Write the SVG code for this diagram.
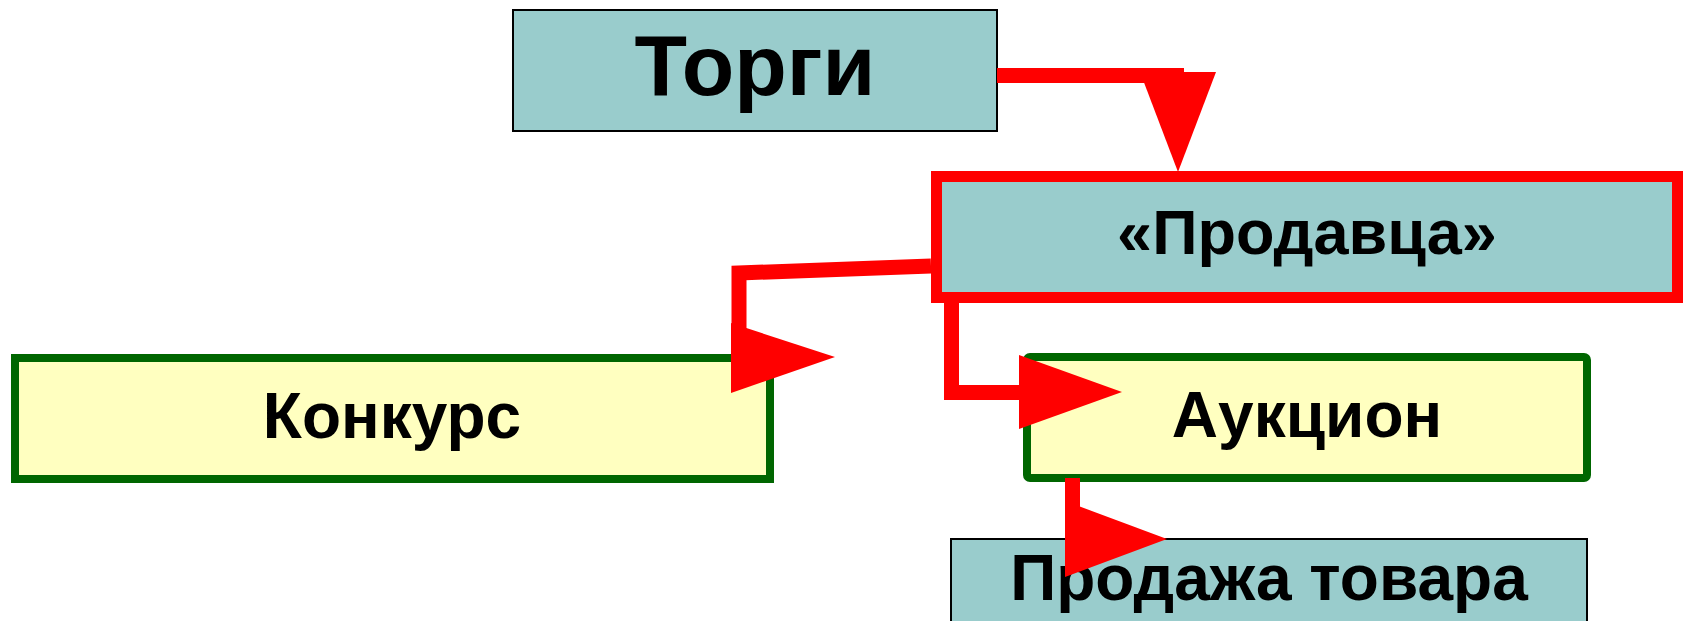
<svg xmlns="http://www.w3.org/2000/svg" width="1685" height="621" viewBox="0 0 1685 621">
<style>
.teal{fill:#99CCCC;stroke:#000;stroke-width:2}
.yel{fill:#FFFFC0;stroke:#006600;stroke-width:8}
.red{fill:#99CCCC;stroke:#FF0000;stroke-width:11}
.t{font-family:"Liberation Sans",Arial,sans-serif;font-weight:bold;fill:#000;text-anchor:middle}
.ln{fill:none;stroke:#FF0000;stroke-width:15;stroke-linejoin:miter}
.ah{fill:#FF0000;stroke:none}
</style>
<rect width="1685" height="621" fill="#fff"/>
<g id="torgi">
<rect class="teal" x="513" y="10" width="484" height="121"/>
<text class="t" x="755" y="95" font-size="86">Торги</text>
</g>
<g id="prodavtsa">
<rect class="red" x="936.5" y="176.5" width="741" height="121"/>
<text class="t" x="1307" y="254" font-size="63">«Продавца»</text>
</g>
<g id="konkurs">
<rect class="yel" x="15" y="358" width="755" height="121"/>
<text class="t" x="392" y="438" font-size="64">Конкурс</text>
</g>
<g id="auktsion">
<rect class="yel" x="1027" y="357" width="560" height="121" rx="3"/>
<text class="t" x="1307" y="437" font-size="64">Аукцион</text>
</g>
<g id="prodazha">
<rect class="teal" x="951" y="539" width="636" height="100"/>
<text class="t" x="1269" y="600" font-size="64">Продажа товара</text>
</g>
<g id="connectors">
<polyline class="ln" points="997,75.5 1184,75.5"/>
<polygon class="ah" points="1140,72 1216,72 1178,172"/>
<polyline class="ln" points="931,266 739,273 739,330"/>
<polygon class="ah" points="731,323 835,357 731,393"/>
<polyline class="ln" points="951.5,303 951.5,392.5 1025,392.5"/>
<polygon class="ah" points="1019,355 1122,392 1019,429"/>
<polyline class="ln" points="1072.5,478 1072.5,512"/>
<polygon class="ah" points="1065,501 1167,539 1065,577"/>
</g>
</svg>
